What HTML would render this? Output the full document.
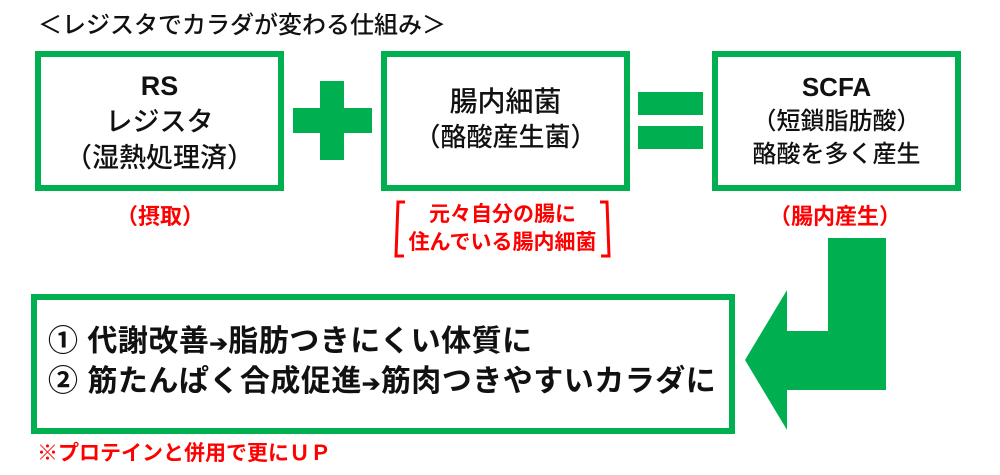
<!DOCTYPE html>
<html><head><meta charset="utf-8"><style>
body{margin:0;width:1000px;height:475px;background:#fff;position:relative;overflow:hidden;font-family:"Liberation Sans","Noto Sans CJK JP",sans-serif;}
.a{position:absolute;}
.box{position:absolute;border:6px solid #00b050;box-sizing:border-box;}
.t{position:absolute;text-align:center;color:#111;white-space:nowrap;}
.r{color:#f00;font-weight:bold;}
</style></head><body>
<div class="t" style="left:38px;top:5px;font-size:24px;font-weight:500;">＜レジスタでカラダが変わる仕組み＞</div>

<div class="box" style="left:35px;top:51px;width:249px;height:140px;"></div>
<div class="t" style="left:35px;width:249px;top:68px;font-size:27px;font-weight:bold;line-height:36px;">RS</div>
<div class="t" style="left:35px;width:249px;top:104px;font-size:27px;font-weight:500;line-height:36px;">レジスタ<br>（湿熱処理済）</div>

<div class="a" style="left:320px;top:81px;width:24px;height:79px;background:#00b050"></div>
<div class="a" style="left:293px;top:108px;width:79px;height:25px;background:#00b050"></div>

<div class="box" style="left:381px;top:51px;width:249px;height:140px;"></div>
<div class="t" style="left:381px;width:249px;top:84px;font-size:28px;font-weight:500;line-height:36px;">腸内細菌</div>
<div class="t" style="left:381px;width:249px;top:120px;font-size:26px;font-weight:500;line-height:34px;">（酪酸産生菌）</div>

<div class="a" style="left:638px;top:92px;width:65px;height:23px;background:#00b050"></div>
<div class="a" style="left:638px;top:126px;width:65px;height:23px;background:#00b050"></div>

<div class="box" style="left:712px;top:51px;width:249px;height:140px;"></div>
<div class="t" style="left:712px;width:249px;top:70px;font-size:26px;font-weight:bold;line-height:34px;">SCFA</div>
<div class="t" style="left:712px;width:249px;top:105px;font-size:24px;font-weight:500;line-height:33px;">（短鎖脂肪酸）<br>酪酸を多く産生</div>

<div class="t r" style="left:60px;width:200px;top:199px;font-size:22px;">（摂取）</div>
<div class="t r" style="left:735px;width:200px;top:199px;font-size:22px;">（腸内産生）</div>

<svg class="a" style="left:0;top:0" width="1000" height="475">
<path d="M405 202 L398 202 L396 256 L404 256" fill="none" stroke="#f00" stroke-width="3"/>
<path d="M600 202 L607 202 L609 256 L601 256" fill="none" stroke="#f00" stroke-width="3"/>
<polygon points="828,238 886,238 886,390 787,390 787,430 745,360 787,290 787,331 828,331" fill="#00b050"/>
</svg>
<div class="t r" style="left:395px;width:215px;top:201px;font-size:21px;line-height:28px;">元々自分の腸に<br>住んでいる腸内細菌</div>

<div class="box" style="left:31px;top:294px;width:704px;height:140px;"></div>
<div class="t" style="left:48px;top:323px;text-align:left;font-size:30px;font-weight:bold;line-height:38px;letter-spacing:0.5px;">① 代謝改善<span style="font-size:22px">➔</span>脂肪つきにくい体質に<br>② 筋たんぱく合成促進<span style="font-size:22px">➔</span>筋肉つきやすいカラダに</div>

<div class="t r" style="left:37px;top:437px;font-size:21px;text-align:left;">※プロテインと併用で更にＵＰ</div>
</body></html>
